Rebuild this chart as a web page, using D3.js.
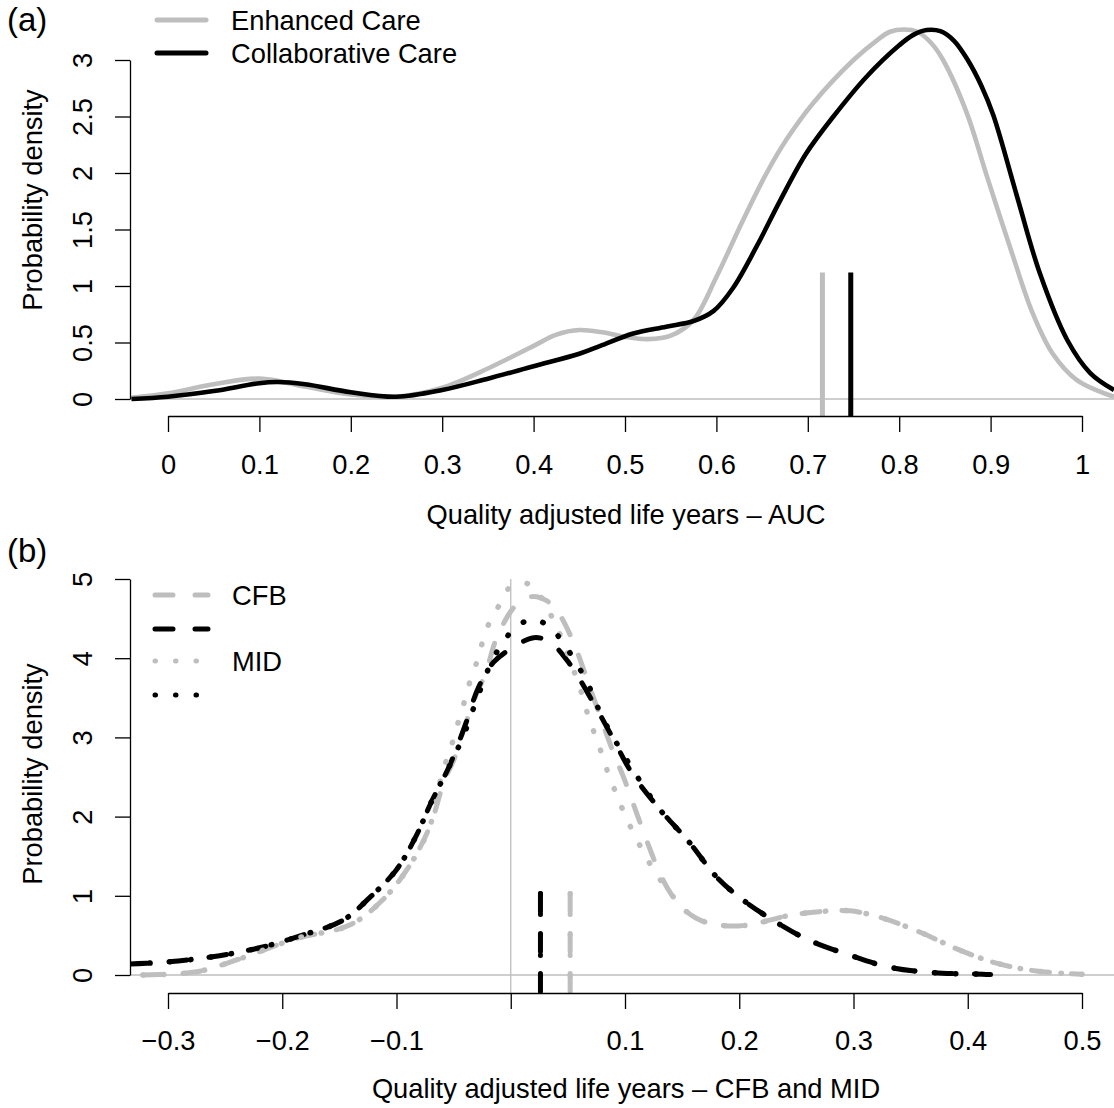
<!DOCTYPE html>
<html>
<head>
<meta charset="utf-8">
<script src="https://cdnjs.cloudflare.com/ajax/libs/d3/7.8.5/d3.min.js"></script>
<style>
  body { margin: 0; background: #fff; }
  svg text { font-family: "Liberation Sans", Arial, Helvetica, sans-serif; fill: #000; }
</style>
</head>
<body>
<div id="chart"></div>
<script>
// (a) QALY - AUC densities
let aucEnhX = [-0.04, 0.0, 0.05, 0.1, 0.15, 0.2, 0.25, 0.3, 0.35, 0.4, 0.425, 0.45, 0.475, 0.5, 0.525, 0.55, 0.575, 0.6, 0.629, 0.655, 0.677, 0.706, 0.75, 0.775, 0.79, 0.805, 0.82, 0.835, 0.848, 0.874, 0.896, 0.921, 0.946, 0.968, 0.994, 1.035]
let aucEnhY = [0.01, 0.05, 0.13, 0.18, 0.11, 0.04, 0.02, 0.1, 0.27, 0.47, 0.57, 0.61, 0.59, 0.55, 0.53, 0.56, 0.70, 1.08, 1.58, 2.0, 2.3, 2.62, 3.0, 3.17, 3.25, 3.27, 3.25, 3.15, 3.0, 2.53, 1.97, 1.35, 0.76, 0.40, 0.17, 0.02]
let aucColX = [-0.04, 0.0, 0.05, 0.1, 0.12, 0.15, 0.2, 0.25, 0.3, 0.35, 0.4, 0.45, 0.473, 0.509, 0.545, 0.575, 0.597, 0.618, 0.644, 0.67, 0.698, 0.728, 0.764, 0.8, 0.815, 0.83, 0.845, 0.86, 0.875, 0.89, 0.903, 0.929, 0.954, 0.984, 1.009, 1.035]
let aucColY = [0.0, 0.02, 0.07, 0.14, 0.15, 0.13, 0.06, 0.02, 0.08, 0.18, 0.29, 0.4, 0.47, 0.58, 0.64, 0.69, 0.78, 0.98, 1.35, 1.76, 2.17, 2.50, 2.85, 3.13, 3.22, 3.265, 3.255, 3.17, 3.0, 2.77, 2.51, 1.79, 1.11, 0.52, 0.23, 0.08]
let aucMeans = [0.716, 0.747]   // enhanced, collaborative
let aucMeanTop = 1.12
let aucTicksX = [0, 0.1, 0.2, 0.3, 0.4, 0.5, 0.6, 0.7, 0.8, 0.9, 1]
let aucTicksY = [0, 0.5, 1, 1.5, 2, 2.5, 3]
let legendA = ['Enhanced Care', 'Collaborative Care']

// (b) QALY - CFB and MID densities
let cfbEnhX = [-0.322, -0.275, -0.24, -0.188, -0.141, -0.112, -0.089, -0.071, -0.058, -0.05, -0.04, -0.03, -0.022, -0.013, 0.001, 0.01, 0.02, 0.031, 0.04, 0.054, 0.071, 0.089, 0.1, 0.11, 0.12, 0.13, 0.14, 0.15, 0.162, 0.175, 0.19, 0.208, 0.243, 0.27, 0.297, 0.325, 0.36, 0.392, 0.425, 0.46, 0.5]
let cfbEnhY = [0.0, 0.04, 0.19, 0.46, 0.63, 0.95, 1.37, 1.87, 2.46, 2.71, 3.15, 3.55, 3.81, 4.23, 4.61, 4.73, 4.78, 4.73, 4.61, 4.23, 3.56, 2.84, 2.45, 2.05, 1.66, 1.3, 1.03, 0.85, 0.72, 0.65, 0.62, 0.63, 0.75, 0.80, 0.81, 0.72, 0.53, 0.32, 0.15, 0.05, 0.01]
let cfbColX = [-0.334, -0.305, -0.261, -0.218, -0.183, -0.147, -0.124, -0.1, -0.083, -0.069, -0.054, -0.04, -0.028, -0.015, 0.001, 0.012, 0.022, 0.034, 0.051, 0.071, 0.089, 0.106, 0.13, 0.156, 0.18, 0.203, 0.232, 0.261, 0.297, 0.331, 0.369, 0.413, 0.42]
let cfbColY = [0.14, 0.16, 0.23, 0.35, 0.5, 0.69, 0.97, 1.33, 1.75, 2.2, 2.63, 3.15, 3.64, 3.95, 4.13, 4.22, 4.26, 4.21, 3.94, 3.47, 3.0, 2.55, 2.1, 1.68, 1.24, 0.95, 0.67, 0.44, 0.25, 0.10, 0.03, 0.01, 0.005]
let midEnhX = [-0.322, -0.275, -0.24, -0.188, -0.141, -0.112, -0.089, -0.071, -0.061, -0.051, -0.046, -0.041, -0.036, -0.03, -0.025, -0.019, -0.01, -0.001, 0.015, 0.027, 0.036, 0.044, 0.056, 0.062, 0.067, 0.073, 0.079, 0.085, 0.092, 0.1, 0.11, 0.12, 0.13, 0.14, 0.15, 0.162, 0.175, 0.19, 0.208, 0.243, 0.27, 0.297, 0.325, 0.36, 0.392, 0.425, 0.46, 0.5]
let midEnhY = [0.0, 0.04, 0.19, 0.46, 0.63, 0.95, 1.37, 1.87, 2.49, 2.94, 3.19, 3.43, 3.69, 3.94, 4.19, 4.44, 4.67, 4.89, 4.94, 4.76, 4.52, 4.27, 3.81, 3.56, 3.31, 3.06, 2.82, 2.56, 2.3, 2.02, 1.72, 1.45, 1.22, 1.03, 0.85, 0.72, 0.65, 0.62, 0.63, 0.75, 0.80, 0.81, 0.72, 0.53, 0.32, 0.15, 0.05, 0.01]
let midColX = [-0.334, -0.305, -0.261, -0.218, -0.183, -0.147, -0.124, -0.1, -0.083, -0.069, -0.054, -0.042, -0.03, -0.016, -0.007, 0.004, 0.02, 0.035, 0.047, 0.066, 0.08, 0.098, 0.13, 0.156, 0.18, 0.203, 0.232, 0.261, 0.297, 0.331, 0.369, 0.413, 0.42]
let midColY = [0.14, 0.16, 0.23, 0.35, 0.5, 0.69, 0.97, 1.33, 1.75, 2.2, 2.63, 3.0, 3.47, 3.98, 4.19, 4.39, 4.49, 4.38, 4.17, 3.72, 3.26, 2.8, 2.1, 1.68, 1.24, 0.95, 0.67, 0.44, 0.25, 0.10, 0.03, 0.01, 0.005]
let cfbMeans = [0.052, 0.026]   // enhanced, collaborative
let cfbMeanTop = 1.03
let bTicksX = [-0.3, -0.2, -0.1, 0, 0.1, 0.2, 0.3, 0.4, 0.5]
let bTicksY = [0, 1, 2, 3, 4, 5]
let legendB = ['CFB', '', 'MID', '']

const GREY = '#bebebe'
const FONT = '"Liberation Sans", Arial, Helvetica, sans-serif'
const FS = 27.3
const DASH = '18,22'
const DOT = '0.5,20'

let pts = (xs, ys) => xs.map((x, i) => [x, ys[i]])

var width = 1114
var height = 1108

var svg = d3.select('#chart').append('svg')
  .attr('width', width)
  .attr('height', height)

var defs = svg.append('defs')
defs.append('clipPath').attr('id', 'clipA')
  .append('rect').attr('x', 130).attr('y', 0).attr('width', 990).attr('height', 416)
defs.append('clipPath').attr('id', 'clipB')
  .append('rect').attr('x', 130).attr('y', 555).attr('width', 990).attr('height', 438)

// ---------- panel (a)
var xA = d3.scaleLinear().domain([0, 1]).range([168, 1082])
var yA = d3.scaleLinear().domain([0, 3]).range([399, 60])
var axisYA = 416

var gA = svg.append('g').attr('clip-path', 'url(#clipA)')

gA.append('line')
  .attr('x1', 130).attr('x2', 1114)
  .attr('y1', yA(0)).attr('y2', yA(0))
  .attr('stroke', GREY).attr('stroke-width', 1.3)

var lineA = d3.line()
  .x(d => xA(d[0]))
  .y(d => yA(d[1]))
  .curve(d3.curveCatmullRom.alpha(0.5))

gA.append('path').datum(pts(aucEnhX, aucEnhY))
  .attr('d', lineA).attr('fill', 'none')
  .attr('stroke', GREY).attr('stroke-width', 4.6).attr('stroke-linejoin', 'round')
gA.append('path').datum(pts(aucColX, aucColY))
  .attr('d', lineA).attr('fill', 'none')
  .attr('stroke', '#000').attr('stroke-width', 4.6).attr('stroke-linejoin', 'round')

gA.selectAll('.meanA')
  .data(aucMeans)
  .enter().append('line')
  .attr('class', 'meanA')
  .attr('x1', d => xA(d)).attr('x2', d => xA(d))
  .attr('y1', yA(aucMeanTop)).attr('y2', axisYA)
  .attr('stroke', (d, i) => i == 0 ? GREY : '#000')
  .attr('stroke-width', 5)

function styleAxis(g) {
  g.attr('font-size', FS).attr('font-family', FONT)
  g.select('.domain').attr('stroke-width', 1.3)
  g.selectAll('.tick line').attr('stroke-width', 1.3)
}

var fmt = d3.format('')

svg.append('g')
  .attr('transform', 'translate(0,' + axisYA + ')')
  .call(d3.axisBottom(xA).tickValues(aucTicksX).tickSize(16).tickSizeOuter(0).tickFormat(fmt))
  .call(styleAxis)
  .selectAll('text').attr('y', 58).attr('dy', 0)

svg.append('g')
  .attr('transform', 'translate(130,0)')
  .call(d3.axisLeft(yA).tickValues(aucTicksY).tickSize(15).tickSizeOuter(0).tickFormat(fmt))
  .call(styleAxis)
  .selectAll('text')
  .attr('x', 0).attr('dy', 0)
  .attr('text-anchor', 'middle')
  .attr('transform', 'translate(-38,0) rotate(-90)')

svg.append('text')
  .attr('x', 626).attr('y', 524)
  .attr('text-anchor', 'middle')
  .style('font-size', FS + 'px')
  .text('Quality adjusted life years \u2013 AUC')

svg.append('text')
  .attr('transform', 'translate(42,200) rotate(-90)')
  .attr('text-anchor', 'middle')
  .style('font-size', FS + 'px')
  .text('Probability density')

svg.append('text')
  .attr('x', 7).attr('y', 31)
  .style('font-size', '33px')
  .text('(a)')

// legend (a)
var legA = svg.selectAll('.legA')
  .data(legendA)
  .enter().append('g')
  .attr('class', 'legA')
  .attr('transform', (d, i) => 'translate(0,' + (20 + i * 33) + ')')
legA.append('line')
  .attr('x1', 157).attr('x2', 206)
  .attr('stroke', (d, i) => i == 0 ? GREY : '#000')
  .attr('stroke-width', 5).attr('stroke-linecap', 'round')
legA.append('text')
  .attr('x', 231).attr('y', 9.5)
  .style('font-size', FS + 'px')
  .text(d => d)

// ---------- panel (b)
var xB = d3.scaleLinear().domain([-0.3, 0.5]).range([168, 1082])
var yB = d3.scaleLinear().domain([0, 5]).range([975, 579])
var axisYB = 993

var gB = svg.append('g').attr('clip-path', 'url(#clipB)')

gB.append('line')
  .attr('x1', 130).attr('x2', 1114)
  .attr('y1', yB(0)).attr('y2', yB(0))
  .attr('stroke', GREY).attr('stroke-width', 1.3)
gB.append('line')
  .attr('x1', xB(0)).attr('x2', xB(0))
  .attr('y1', yB(5)).attr('y2', axisYB)
  .attr('stroke', GREY).attr('stroke-width', 1.3)

var lineB = d3.line()
  .x(d => xB(d[0]))
  .y(d => yB(d[1]))
  .curve(d3.curveCatmullRom.alpha(0.5))

let seriesB = [
  { x: cfbEnhX, y: cfbEnhY, color: GREY, dash: DASH },
  { x: cfbColX, y: cfbColY, color: '#000', dash: DASH },
  { x: midEnhX, y: midEnhY, color: GREY, dash: DOT },
  { x: midColX, y: midColY, color: '#000', dash: DOT }
]

gB.selectAll('.curveB')
  .data(seriesB)
  .enter().append('path')
  .attr('class', 'curveB')
  .attr('d', d => lineB(pts(d.x, d.y)))
  .attr('fill', 'none')
  .attr('stroke', d => d.color)
  .attr('stroke-width', d => d.dash == DOT ? 5.5 : 5)
  .attr('stroke-dasharray', d => d.dash)
  .attr('stroke-linecap', 'round')

// mean markers: dashed (CFB) and dotted (MID) overlap
let markB = []
cfbMeans.forEach((m, i) => {
  markB.push({ x: m, color: i == 0 ? GREY : '#000', dash: DASH })
  markB.push({ x: m, color: i == 0 ? GREY : '#000', dash: DOT })
})
gB.selectAll('.meanB')
  .data(markB)
  .enter().append('line')
  .attr('class', 'meanB')
  .attr('x1', d => xB(d.x)).attr('x2', d => xB(d.x))
  .attr('y1', yB(cfbMeanTop)).attr('y2', axisYB)
  .attr('stroke', d => d.color)
  .attr('stroke-width', 5)
  .attr('stroke-dasharray', d => d.dash)
  .attr('stroke-linecap', 'round')

svg.append('g')
  .attr('transform', 'translate(0,' + axisYB + ')')
  .call(d3.axisBottom(xB).tickValues(bTicksX).tickSize(16).tickSizeOuter(0)
    .tickFormat(d => d == 0 ? '' : fmt(d)))
  .call(styleAxis)
  .selectAll('text').attr('y', 57).attr('dy', 0)

svg.append('g')
  .attr('transform', 'translate(130,0)')
  .call(d3.axisLeft(yB).tickValues(bTicksY).tickSize(15).tickSizeOuter(0).tickFormat(fmt))
  .call(styleAxis)
  .selectAll('text')
  .attr('x', 0).attr('dy', 0)
  .attr('text-anchor', 'middle')
  .attr('transform', 'translate(-38,0) rotate(-90)')

svg.append('text')
  .attr('x', 626).attr('y', 1098)
  .attr('text-anchor', 'middle')
  .style('font-size', FS + 'px')
  .text('Quality adjusted life years \u2013 CFB and MID')

svg.append('text')
  .attr('transform', 'translate(42,774) rotate(-90)')
  .attr('text-anchor', 'middle')
  .style('font-size', FS + 'px')
  .text('Probability density')

svg.append('text')
  .attr('x', 7).attr('y', 562)
  .style('font-size', '33px')
  .text('(b)')

// legend (b)
let legYB = [595, 629, 661, 695]
var legB = svg.selectAll('.legB')
  .data(legendB)
  .enter().append('g')
  .attr('class', 'legB')
  .attr('transform', (d, i) => 'translate(0,' + legYB[i] + ')')
legB.append('line')
  .attr('x1', 155).attr('x2', 208)
  .attr('stroke', (d, i) => i % 2 == 0 ? GREY : '#000')
  .attr('stroke-width', 5)
  .attr('stroke-dasharray', (d, i) => i < 2 ? DASH : DOT)
  .attr('stroke-linecap', 'round')
legB.append('text')
  .attr('x', 232).attr('y', 9.5)
  .style('font-size', FS + 'px')
  .text(d => d)
</script>
</body>
</html>
